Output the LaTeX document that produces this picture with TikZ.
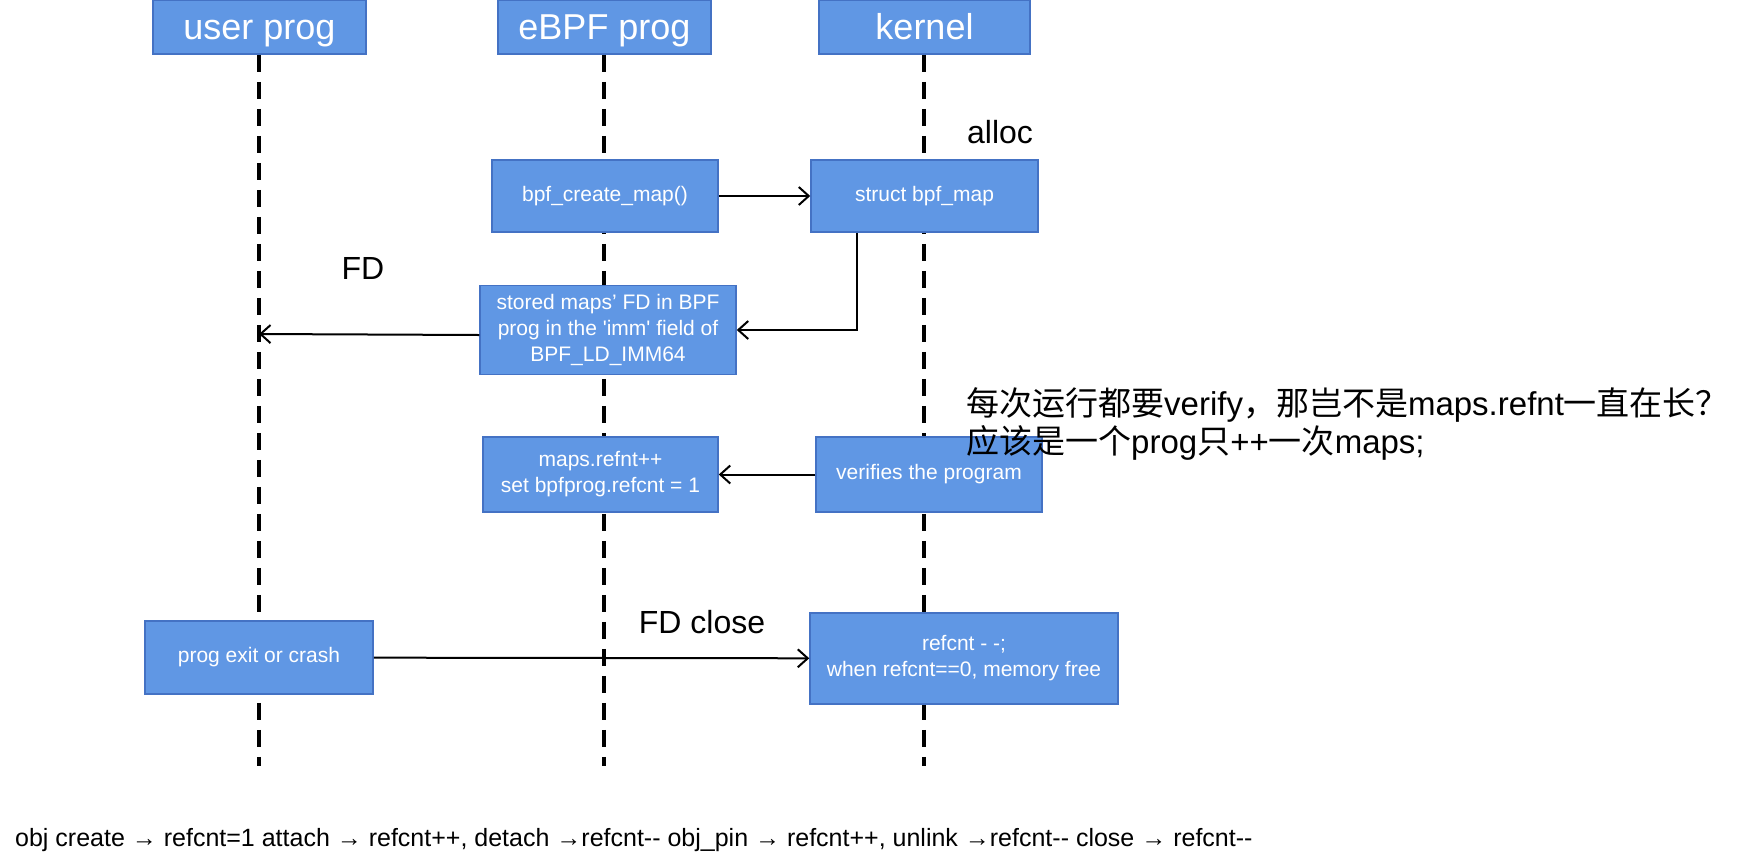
\documentclass[tikz,border=0pt]{standalone}
\usepackage{fontspec}
\setmainfont{Liberation Sans}[Ligatures=TeXOff]
\newfontfamily\cjk{Noto Sans CJK SC}
\usetikzlibrary{calc}
\usetikzlibrary{arrows.meta}
\usepackage{xcolor}
\definecolor{boxblue}{RGB}{96,151,228}
\definecolor{boxedge}{RGB}{68,114,196}

\begin{document}
\begin{tikzpicture}[x=1pt,y=-1pt,
  actor/.style={draw=boxedge,line width=1.5pt,fill=boxblue,text=white,
    font=\fontsize{36}{40}\selectfont,minimum height=54pt,inner sep=0pt,
    text height=30pt,text depth=6pt},
  msgbox/.style={draw=boxedge,line width=1.5pt,fill=boxblue,text=white,
    font=\fontsize{21}{26}\selectfont,align=center,inner sep=0pt},
  life/.style={line width=3.5pt,dash pattern=on 17pt off 10pt},
  msg/.style={line width=2pt,-{Straight Barb[length=10pt,width=18pt]}},
  note/.style={font=\fontsize{32}{38}\selectfont,inner sep=0pt}]
% \draw[lightgray] (0,0) grid[step=50] (1752,865);
\useasboundingbox (0,0) rectangle (1752,865);

\node[actor,minimum width=213pt] (user) at (259.5,27) {user prog};
\node[actor,minimum width=213pt] (ebpf) at (604.5,27) {eBPF prog};
\node[actor,minimum width=211pt] (kern) at (924.5,27) {kernel};

\coordinate (uend) at (259,766);
\coordinate (eend) at (604,766);
\coordinate (kend) at (924,766);

\draw[life] (user.south -| uend) -- (uend);
\draw[life] (ebpf.south -| eend) -- (eend);
\draw[life] (kern.south -| kend) -- (kend);

\node[msgbox,minimum width=226pt,minimum height=72pt] (create) at (605,196) {bpf\_create\_map()};
\node[msgbox,minimum width=227pt,minimum height=72pt] (map) at (924.5,196) {struct bpf\_map};
\node[msgbox,minimum width=256pt,minimum height=89pt] (stored) at (608,330)
  {stored maps’ FD in BPF\\prog in the 'imm' field of\\BPF\_LD\_IMM64};
\node[msgbox,minimum width=235pt,minimum height=75pt] (refnt) at (600.5,474.5)
  {maps.refnt++\\set bpfprog.refcnt = 1};
\node[msgbox,minimum width=226pt,minimum height=75pt] (verify) at (929,474.5) {verifies the program};
\node[msgbox,minimum width=228pt,minimum height=73pt] (exit) at (259,657.5) {prog exit or crash};
\node[msgbox,minimum width=308pt,minimum height=91pt] (free) at (964,658.5)
  {refcnt - -;\\when refcnt==0, memory free};

\coordinate (ufd) at (259,334);

\draw[msg] (create) -- (map);
\draw[msg] ([xshift=-67.5pt]map.south) |- (stored.east);
\draw[msg] ([yshift=-5pt]stored.west) -- (ufd);
\draw[msg] (verify) -- (refnt);
\draw[msg] (exit) -- (free);

\node[note] (alloc) at (1000,132) {alloc};
\node[note] (fd) at (363,268) {FD};
\node[note] (fdclose) at (702,622) {FD close};
\node[note,anchor=west,align=left,font=\fontsize{33}{38}\selectfont] (why) at (966,424)
  {{\cjk 每次运行都要}verify{\cjk ，那岂不是}maps.refnt{\cjk 一直在长？}\\
   {\cjk 应该是一个}prog{\cjk 只}++{\cjk 一次}maps;};

\node[inner sep=0pt,anchor=west,font=\fontsize{25}{28}\selectfont] (rule) at (15,840)
  {obj create → refcnt=1 attach → refcnt++, detach →refcnt-- obj\_pin → refcnt++, unlink →refcnt-- close → refcnt--};

\end{tikzpicture}
\end{document}
